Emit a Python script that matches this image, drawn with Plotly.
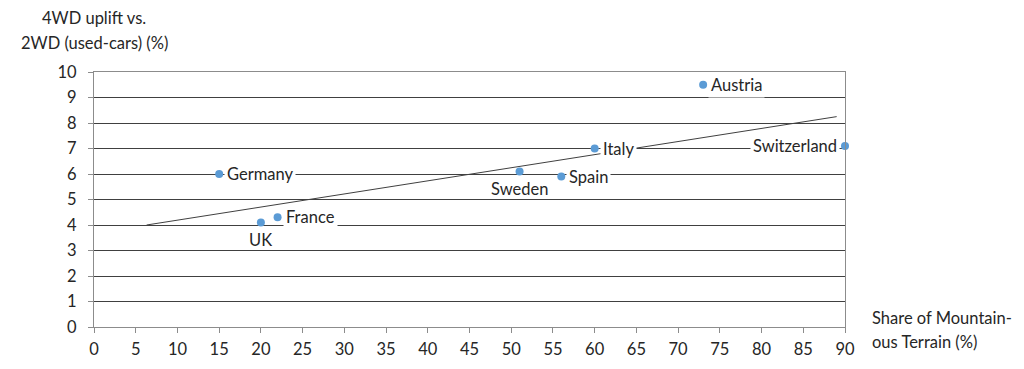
import plotly.graph_objects as go

countries = ["Germany", "UK", "France", "Sweden", "Spain", "Italy", "Austria", "Switzerland"]
mountain_share = [15, 20, 22, 51, 56, 60, 73, 90]
uplift = [6.0, 4.1, 4.3, 6.1, 5.9, 7.0, 9.5, 7.1]
label_side = ["right", "below", "right", "below", "right", "right", "right", "left"]

trend_x = [6.3, 89.0]
trend_y = [4.0, 8.25]

y_title_lines = ["4WD uplift vs.", "2WD (used-cars) (%)"]
x_title_lines = ["Share of Mountain-", "ous Terrain (%)"]

FONT = "Lato, 'Open Sans', sans-serif"
TXT = "#262626"
FS = 16.5
fig = go.Figure()

fig.add_trace(go.Scatter(x=trend_x, y=trend_y, mode="lines",
                         line=dict(color="#404040", width=1), hoverinfo="skip",
                         showlegend=False, cliponaxis=False))
fig.add_trace(go.Scatter(x=mountain_share, y=uplift, mode="markers",
                         marker=dict(color="#5B9BD5", size=8),
                         showlegend=False, cliponaxis=False))

for c, xv, yv, side in zip(countries, mountain_share, uplift, label_side):
    if side == "right":
        kw = dict(xanchor="left", yanchor="middle", xshift=5, bgcolor="white")
    elif side == "left":
        kw = dict(xanchor="right", yanchor="middle", xshift=-5, bgcolor="white")
    else:
        kw = dict(xanchor="center", yanchor="top", yshift=-5)
    fig.add_annotation(x=xv, y=yv, text=c, showarrow=False,
                       font=dict(family=FONT, size=FS, color=TXT), borderpad=2, **kw)

for line, py in zip(x_title_lines, [0.035, -0.059]):
    fig.add_annotation(xref="paper", yref="paper", x=1.033, y=py, xanchor="left", yanchor="middle",
                       text=line, showarrow=False, font=dict(family=FONT, size=FS, color=TXT))
for line, py in zip(y_title_lines, [1.212, 1.114]):
    fig.add_annotation(xref="paper", yref="paper", x=0.0, y=py, xanchor="center", yanchor="middle",
                       text=line, showarrow=False, font=dict(family=FONT, size=FS, color=TXT))

fig.update_layout(
    width=1008, height=353,
    margin=dict(l=86, r=171, t=64, b=34),
    plot_bgcolor="white", paper_bgcolor="white",
    font=dict(family=FONT, size=FS, color=TXT),
    xaxis=dict(range=[0, 90], dtick=5, tick0=0, showgrid=False, zeroline=False,
               showline=True, linecolor="#8c8c8c", linewidth=1, mirror=True,
               ticks="outside", ticklen=5, tickcolor="#8c8c8c", automargin=False,
               ticklabelstandoff=2),
    yaxis=dict(range=[0, 10], dtick=1, tick0=0, showgrid=True, gridcolor="#404040",
               gridwidth=1, zeroline=False, showline=True, linecolor="#8c8c8c",
               linewidth=1, mirror=True, ticks="outside", ticklen=5, tickcolor="#8c8c8c",
               automargin=False, ticklabelstandoff=8),
)

fig.write_html("out.html")
